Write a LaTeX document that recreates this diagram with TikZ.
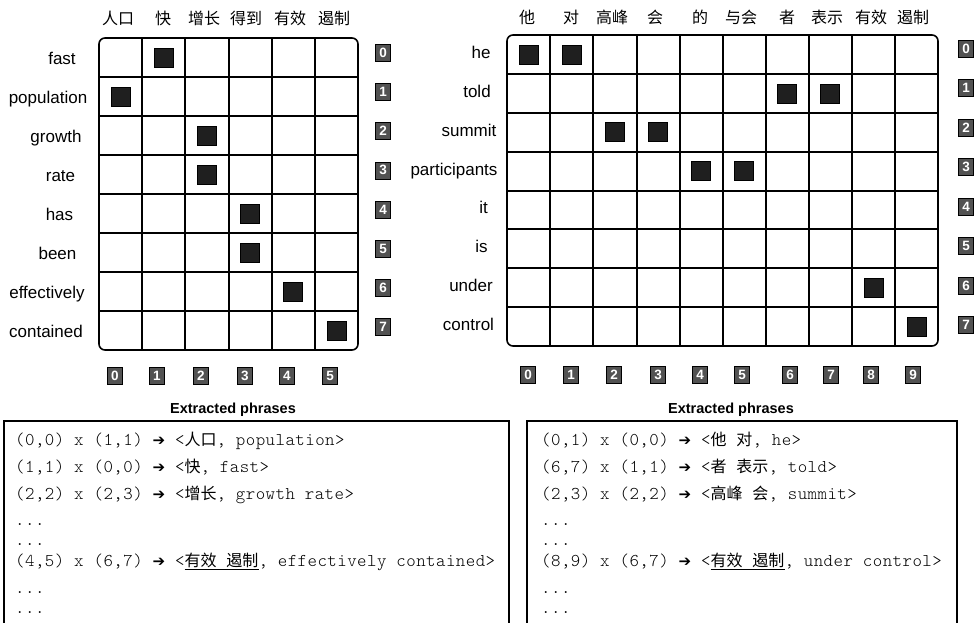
\documentclass[tikz,border=0pt]{standalone}
\usepackage{fontspec}
\setmainfont{Liberation Sans}
\setmonofont[LetterSpace=2.6]{lmmonolt10-regular.otf}
\newfontfamily\cjk{Noto Sans CJK SC}
\newfontfamily\dvs{DejaVu Sans}
\newcommand{\arr}{{\dvs\fontsize{15}{15}\selectfont ➔}}
\newcommand{\zh}[1]{{\cjk\fontsize{16}{18}\selectfont #1}}
\begin{document}
\begin{tikzpicture}[x=1pt,y=-1pt,
  gl/.style={line width=1.4pt, black},
  frame/.style={line width=1.6pt, rounded corners=6pt},
  blk/.style={draw=black, fill=black!88, minimum size=19pt, inner sep=0pt, line width=0.6pt},
  idx/.style={draw=black, fill=black!68, text=white, font=\bfseries\fontsize{13.5}{13.5}\selectfont, minimum width=15pt, minimum height=17pt, inner sep=0pt, line width=0.5pt},
  rowlab/.style={anchor=base, font=\fontsize{17}{20}\selectfont, inner sep=0pt},
  collab/.style={anchor=base, font=\cjk\fontsize{16}{18}\selectfont, inner sep=0pt},
  captext/.style={anchor=base, font=\bfseries\fontsize{14.5}{16}\selectfont, inner sep=0pt},
  txtline/.style={anchor=base west, font=\ttfamily\fontsize{18}{20}\selectfont, inner sep=0pt},
  panel/.style={line width=1.2pt}
]
\useasboundingbox (0,0) rectangle (974,622);
% ---------------- left grid
\def\LX{99}\def\LY{38}\def\LW{43.17}\def\LH{39}
\foreach \x in {142,185,229,272,315} \draw[gl] (\x,38) -- (\x,350);
\foreach \y in {77,116,155,194,233,272,311} \draw[gl] (99,\y) -- (358,\y);
\draw[frame] (99,38) rectangle (358,350);
\foreach \t/\x [count=\k from 0] in {fast/62,population/48,growth/56,rate/60.5,has/59.5,been/57.5,effectively/47,contained/46}
  \node[rowlab] (Lr\k) at (\x,{\LY+(\k+0.5)*\LH+7}) {\t};
\foreach \t/\x [count=\k from 0] in {人口/118,快/163,增长/204,得到/246,有效/290,遏制/334}
  \node[collab] (Lc\k) at (\x,24) {\t};
\foreach \k in {0,...,7} \node[idx] (Li\k) at (383,{53+39.1*\k}) {\k};
\foreach \x [count=\k from 0] in {115,157,201,245,287,330} \node[idx] (Lj\k) at (\x,376) {\k};
\foreach \r/\c in {0/1,1/0,2/2,3/2,4/3,5/3,6/4,7/5}
  \node[blk] (Lb\r-\c) at ({\LX+(\c+0.5)*\LW},{\LY+(\r+0.5)*\LH}) {};
% ---------------- right grid
\def\RX{507}\def\RY{35}\def\RW{43.1}\def\RH{38.875}
\foreach \x in {550,593,637,680,723,766,809,852,895} \draw[gl] (\x,35) -- (\x,346);
\foreach \y in {74,113,152,191,229,268,307} \draw[gl] (507,\y) -- (938,\y);
\draw[frame] (507,35) rectangle (938,346);
\foreach \t/\x [count=\k from 0] in {he/481,told/477,summit/469,participants/454,it/483.5,is/481.5,under/471,control/468.5}
  \node[rowlab] (Rr\k) at (\x,{\RY+(\k+0.5)*\RH+4}) {\t};
\foreach \t/\x [count=\k from 0] in {他/527,对/571,高峰/612,会/655,的/700,与会/741,者/787,表示/827,有效/871,遏制/913}
  \node[collab] (Rc\k) at (\x,23) {\t};
\foreach \k in {0,...,7} \node[idx] (Ri\k) at (966,{48.5+39.5*\k}) {\k};
\foreach \x [count=\k from 0] in {528,571,614,658,700,742,790,831,871,913} \node[idx] (Rj\k) at (\x,375) {\k};
\foreach \r/\c in {0/0,0/1,1/6,1/7,2/2,2/3,3/4,3/5,6/8,7/9}
  \node[blk] (Rb\r-\c) at ({\RX+(\c+0.5)*\RW},{\RY+(\r+0.5)*\RH}) {};
% ---------------- captions
\node[captext] (capL) at (233,413) {Extracted phrases};
\node[captext] (capR) at (731,413) {Extracted phrases};
% ---------------- panels
\begin{scope}
\clip (0,0) rectangle (974,622);
\draw[panel] (4,640) -- (4,421) -- (509,421) -- (509,640);
\draw[panel] (527,640) -- (527,421) -- (957,421) -- (957,640);
\end{scope}
% left text
\node[txtline] (L1) at (15,445) {(0,0) x (1,1) \arr{} <\zh{人口}, population>};
\node[txtline] (L2) at (15,472) {(1,1) x (0,0) \arr{} <\zh{快}, fast>};
\node[txtline] (L3) at (15,499) {(2,2) x (2,3) \arr{} <\zh{增长}, growth rate>};
\node[txtline] (L4) at (15,525) {...};
\node[txtline] (L5) at (15,545) {...};
\node[txtline] (L6) at (15,566) {(4,5) x (6,7) \arr{} <\underline{\zh{有效}\ \zh{遏制}}, effectively contained>};
\node[txtline] (L7) at (15,593) {...};
\node[txtline] (L8) at (15,613) {...};
% right text
\node[txtline] (R1) at (541,445) {(0,1) x (0,0) \arr{} <\zh{他} \zh{对}, he>};
\node[txtline] (R2) at (541,472) {(6,7) x (1,1) \arr{} <\zh{者} \zh{表示}, told>};
\node[txtline] (R3) at (541,499) {(2,3) x (2,2) \arr{} <\zh{高峰} \zh{会}, summit>};
\node[txtline] (R4) at (541,525) {...};
\node[txtline] (R5) at (541,545) {...};
\node[txtline] (R6) at (541,566) {(8,9) x (6,7) \arr{} <\underline{\zh{有效}\ \zh{遏制}}, under control>};
\node[txtline] (R7) at (541,593) {...};
\node[txtline] (R8) at (541,613) {...};
\end{tikzpicture}
\end{document}
